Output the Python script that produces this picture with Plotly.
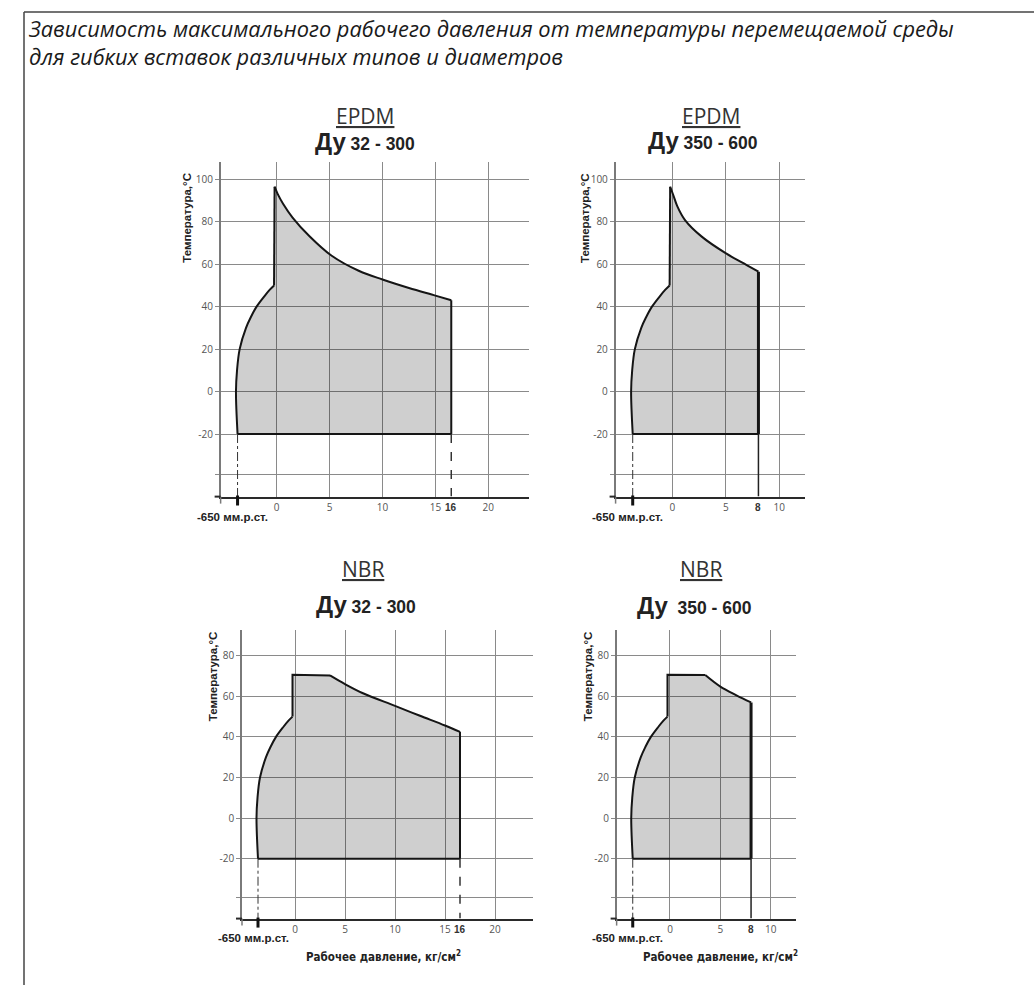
import plotly.graph_objects as go

W, H = 1034, 985

# ---------------- data ----------------
TITLE_LINES = [
    "Зависимость максимального рабочего давления от температуры перемещаемой среды",
    "для гибких вставок различных типов и диаметров",
]

# left (vacuum side) boundary shared by every working area: pressure (schematic units), temperature °C
LEFT_P = [-3.7, -3.85, -3.75, -3.5, -2.9, -2.45, -1.9, -1.15, -0.65, -0.25]
LEFT_T = [-20, 0, 10, 20, 30, 35, 40, 45, 48, 50]

# upper boundary of the working area for each material / nominal diameter range
EPDM_32_300_P = [-0.2, 0.1, 0.6, 1.5, 3.1, 5.2, 7.8, 10, 12.5, 15, 16.5]
EPDM_32_300_T = [96.5, 93, 88.5, 82, 73.2, 64, 56.8, 52.8, 48.8, 45.2, 43]
EPDM_350_600_P = [-0.2, 0.09, 0.45, 1.19, 2.75, 5.02, 6.95, 8.05]
EPDM_350_600_T = [96.5, 92.6, 87.5, 80.8, 73, 65.1, 59.6, 56.5]
NBR_32_300_P = [-0.25, 3.5, 5, 6.8, 10, 12.5, 15, 16.5]
NBR_32_300_T = [70.6, 70.3, 66.0, 61.5, 55.3, 50.4, 45.6, 42.5]
NBR_350_600_P = [-0.25, 3.5, 5, 6.6, 8.05]
NBR_350_600_T = [70.6, 70.5, 64.8, 60.5, 57]

T_MIN = -20
VACUUM_P = -3.7
VACUUM_LABEL = "-650 мм.р.ст."
P_MAX_LABELS = ["16", "8", "16", "8"]

X_TICKS_WIDE = [0, 5, 10, 15, 20]
X_TICKS_NARROW = [0, 5, 10]
Y_TICKS_EPDM = [-20, 0, 20, 40, 60, 80, 100]
Y_TICKS_NBR = [-20, 0, 20, 40, 60, 80]
Y_EXTRA_GRID = -39
Y_BASE = -49.5

MATERIALS = ["EPDM", "EPDM", "NBR", "NBR"]
DN_LABELS = ["32 - 300", "350 - 600", "32 - 300", " 350 - 600"]
Y_TITLE = "Температура,°С"
X_TITLE = "Рабочее давление, кг/см<sup>2</sup>"

TOP_P = [EPDM_32_300_P, EPDM_350_600_P, NBR_32_300_P, NBR_350_600_P]
TOP_T = [EPDM_32_300_T, EPDM_350_600_T, NBR_32_300_T, NBR_350_600_T]
CURVE_START = [0, 0, 1, 1]   # index in the upper boundary where the smooth curve begins
X_TICKS = [X_TICKS_WIDE, X_TICKS_NARROW, X_TICKS_WIDE, X_TICKS_NARROW]
Y_TICKS = [Y_TICKS_EPDM, Y_TICKS_EPDM, Y_TICKS_NBR, Y_TICKS_NBR]

# ---------------- geometry (pixels) ----------------
GEOM = [
    dict(x0=276.7, sx=10.58, xr=[-5.3, 23.8], yref=100, ypx=179.3, sy=2.1225, ytop=108,
         mat=(365, 116), dn=(365, 141), ytit=(186.7, 218), lab_y=507, vac_y=516.7, xtit=None, dashed=True),
    dict(x0=672.3, sx=10.7, xr=[-5.3, 12.4], yref=100, ypx=179.3, sy=2.1225, ytop=108,
         mat=(710.5, 116), dn=(703, 140.5), ytit=(585, 218), lab_y=507, vac_y=516.7, xtit=None, dashed=False),
    dict(x0=295.0, sx=10.0, xr=[-5.3, 23.8], yref=80, ypx=655.7, sy=2.03, ytop=92.5,
         mat=(362.5, 569), dn=(365.5, 604), ytit=(213.3, 676), lab_y=929, vac_y=938.3, xtit=(383.5, 956.7), dashed=True),
    dict(x0=670.0, sx=10.07, xr=[-5.3, 12.5], yref=80, ypx=655.7, sy=2.03, ytop=92.5,
         mat=(700.5, 569), dn=(694, 605), ytit=(588.3, 676), lab_y=929, vac_y=938.3, xtit=(720, 956.7), dashed=False),
]
TITLE_X, TITLE_YC = 26, 42
FRAME_X, FRAME_Y = 24, 12

GRID_C = "#8a8a8a"
AXIS_C = "#7a7a7a"
LINE_C = "#151515"
TICK_FONT = dict(family="Open Sans", size=10, color="#555555")
BOLD_FONT = "Liberation Sans"


def px(v):
    return v / W


def py(v):
    return 1 - v / H


fig = go.Figure()
layout = dict(
    width=W, height=H, margin=dict(l=0, r=0, t=0, b=0),
    paper_bgcolor="white", plot_bgcolor="white", showlegend=False,
)
annotations = []
shapes = []


def add_line(xs, ys, xa, ya, shape="linear", color=LINE_C, width=2, dash="solid"):
    fig.add_trace(go.Scatter(
        x=xs, y=ys, mode="lines", line=dict(color=color, width=width, dash=dash, shape=shape),
        xaxis=xa, yaxis=ya, hoverinfo="skip",
    ))


for i, g in enumerate(GEOM):
    n = "" if i == 0 else str(i + 1)
    xa, ya = "x" + n, "y" + n
    top_px = g["ypx"] - (g["ytop"] - g["yref"]) * g["sy"]
    bot_px = g["ypx"] + (g["yref"] - Y_BASE) * g["sy"]
    left_px = g["x0"] + g["xr"][0] * g["sx"]
    right_px = g["x0"] + g["xr"][1] * g["sx"]

    layout["xaxis" + n] = dict(
        domain=[px(left_px), px(right_px)], range=g["xr"], anchor=ya, tickvals=X_TICKS[i],
        ticktext=[str(v) for v in X_TICKS[i]], showgrid=True, gridcolor=GRID_C, gridwidth=1,
        zeroline=False, showline=True, linecolor="#2a2a2a", linewidth=2, ticks="",
        tickfont=TICK_FONT, fixedrange=True,
    )
    layout["yaxis" + n] = dict(
        domain=[py(bot_px), py(top_px)], range=[Y_BASE, g["ytop"]], anchor=xa,
        tickvals=Y_TICKS[i], ticktext=[str(v) for v in Y_TICKS[i]],
        showgrid=True, gridcolor=GRID_C, gridwidth=1, zeroline=False,
        showline=True, linecolor=AXIS_C, linewidth=1.5, ticks="outside", ticklen=4,
        tickcolor=GRID_C, tickwidth=1, tickfont=TICK_FONT, fixedrange=True,
        minor=dict(tickvals=[Y_EXTRA_GRID], showgrid=True, gridcolor=GRID_C, gridwidth=1,
                   ticks="outside", ticklen=4, tickcolor=GRID_C, tickwidth=1),
    )

    tp, tt = TOP_P[i], TOP_T[i]
    cs = CURVE_START[i]
    p_max, t_end = tp[-1], tt[-1]

    # filled working area
    fig.add_trace(go.Scatter(
        x=LEFT_P + tp + [p_max, LEFT_P[0]], y=LEFT_T + tt + [T_MIN, T_MIN], mode="lines",
        fill="toself", fillcolor="rgba(0,0,0,0.19)", line=dict(width=0, color="rgba(0,0,0,0)"),
        xaxis=xa, yaxis=ya, hoverinfo="skip",
    ))
    # outline
    add_line(LEFT_P, LEFT_T, xa, ya, shape="spline")
    add_line([LEFT_P[-1]] + tp[:cs + 1], [LEFT_T[-1]] + tt[:cs + 1], xa, ya)
    add_line(tp[cs:], tt[cs:], xa, ya, shape="spline")
    add_line([p_max, LEFT_P[0]], [T_MIN, T_MIN], xa, ya)
    add_line([p_max, p_max], [t_end, T_MIN], xa, ya, width=2 if g["dashed"] else 3)

    # vacuum mark guide
    add_line([VACUUM_P, VACUUM_P], [T_MIN, Y_BASE], xa, ya, color="#333333", width=1, dash="dashdot")
    # max pressure guide
    if g["dashed"]:
        add_line([p_max, p_max], [T_MIN, Y_BASE], xa, ya, color="#333333", width=1.5, dash="dash")
    else:
        add_line([p_max, p_max], [T_MIN, Y_BASE], xa, ya, color="#222222", width=1.5)

    # thick tick for the vacuum mark, axis extensions
    shapes.append(dict(type="line", xref=xa, yref="paper", x0=VACUUM_P, x1=VACUUM_P,
                       y0=py(bot_px - 1), y1=py(bot_px + 9), line=dict(color="#111111", width=3)))
    shapes.append(dict(type="line", xref="paper", yref="paper", x0=px(left_px), x1=px(left_px),
                       y0=py(bot_px), y1=py(bot_px + 7), line=dict(color=AXIS_C, width=1.5)))
    shapes.append(dict(type="line", xref="paper", yref="paper", x0=px(left_px - 6), x1=px(left_px),
                       y0=py(bot_px), y1=py(bot_px), line=dict(color="#2a2a2a", width=2)))

    # labels
    annotations.append(dict(
        xref=xa, yref="paper", x=p_max, y=py(g["lab_y"]), text="<b>" + P_MAX_LABELS[i] + "</b>",
        showarrow=False, font=dict(family=BOLD_FONT, size=10, color="#333333"),
        xanchor="center", yanchor="middle",
    ))
    annotations.append(dict(
        xref=xa, yref="paper", x=VACUUM_P, xshift=-5, y=py(g["vac_y"]), text="<b>" + VACUUM_LABEL + "</b>",
        showarrow=False, font=dict(family=BOLD_FONT, size=11.5, color="#222222"),
        xanchor="center", yanchor="middle",
    ))
    annotations.append(dict(
        xref="paper", yref="paper", x=px(g["ytit"][0]), y=py(g["ytit"][1]), text="<b>" + Y_TITLE + "</b>",
        textangle=-90, showarrow=False, font=dict(family=BOLD_FONT, size=11.5, color="#222222"),
        xanchor="center", yanchor="middle",
    ))
    annotations.append(dict(
        xref="paper", yref="paper", x=px(g["mat"][0]), y=py(g["mat"][1]), text="<u>" + MATERIALS[i] + "</u>",
        showarrow=False, font=dict(family="Open Sans", size=21, color="#333333"),
        xanchor="center", yanchor="middle",
    ))
    annotations.append(dict(
        xref="paper", yref="paper", x=px(g["dn"][0]), y=py(g["dn"][1]),
        text="<b><span style='font-size:24px'>Ду</span> " + DN_LABELS[i] + "</b>",
        showarrow=False, font=dict(family=BOLD_FONT, size=17.5, color="#222222"),
        xanchor="center", yanchor="middle",
    ))
    if g["xtit"] is not None:
        annotations.append(dict(
            xref="paper", yref="paper", x=px(g["xtit"][0]), y=py(g["xtit"][1]), text="<b>" + X_TITLE + "</b>",
            showarrow=False,
            font=dict(family="Liberation Sans Narrow, DejaVu Sans Condensed, Liberation Sans", size=11.5, color="#222222"),
            xanchor="center", yanchor="middle",
        ))

# main title (two lines in one text block)
annotations.append(dict(
    xref="paper", yref="paper", x=px(TITLE_X), y=py(TITLE_YC),
    text="<i>" + "<br>".join(TITLE_LINES) + "</i>", align="left",
    showarrow=False, font=dict(family="Open Sans", size=21.8, color="#1a1a1a"),
    xanchor="left", yanchor="middle",
))

# frame
shapes.append(dict(type="line", xref="paper", yref="paper", x0=px(FRAME_X), x1=1, y0=py(FRAME_Y), y1=py(FRAME_Y),
                   line=dict(color="#444444", width=1.5)))
shapes.append(dict(type="line", xref="paper", yref="paper", x0=px(FRAME_X), x1=px(FRAME_X), y0=py(FRAME_Y), y1=0,
                   line=dict(color="#444444", width=1.5)))

layout["annotations"] = annotations
layout["shapes"] = shapes
fig.update_layout(**layout)
fig.write_html(
    "out.html",
    config={"displayModeBar": False},
    post_script="document.body.style.margin='0';document.body.style.overflow='hidden';",
)
